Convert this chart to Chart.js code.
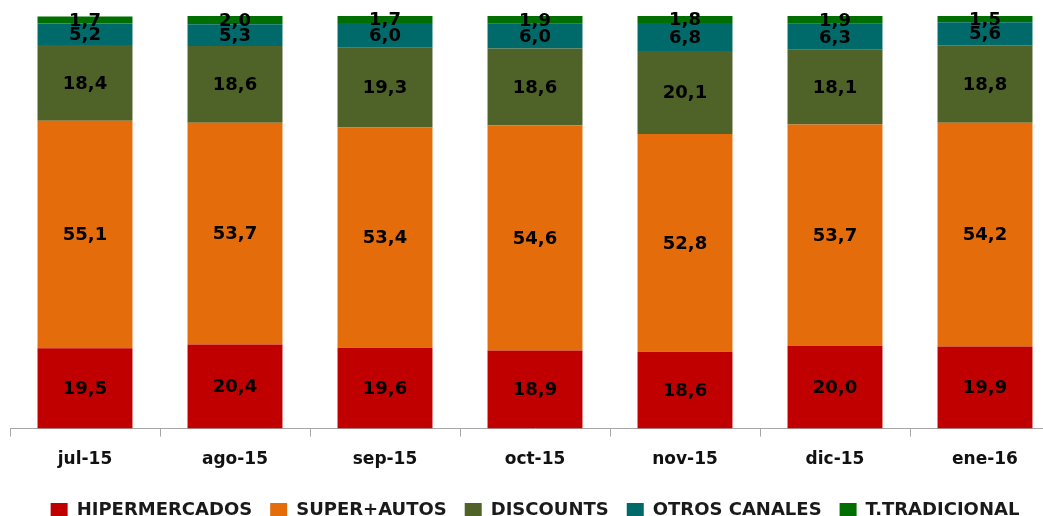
<!DOCTYPE html>
<html>
<head>
<meta charset="utf-8">
<script src="https://cdn.jsdelivr.net/npm/chart.js@4"></script>
<style>
  html, body { margin: 0; padding: 0; background: #fff; overflow: hidden; }
  #wrap { width: 1070px; height: 516px; }
</style>
</head>
<body>
<div id="wrap"><canvas id="chart" width="1070" height="516"></canvas></div>
<script>
const months = ['jul-15', 'ago-15', 'sep-15', 'oct-15', 'nov-15', 'dic-15', 'ene-16'];
const hipermercados = [19.5, 20.4, 19.6, 18.9, 18.6, 20.0, 19.9];
const superAutos = [55.1, 53.7, 53.4, 54.6, 52.8, 53.7, 54.2];
const discounts = [18.4, 18.6, 19.3, 18.6, 20.1, 18.1, 18.8];
const otrosCanales = [5.2, 5.3, 6.0, 6.0, 6.8, 6.3, 5.6];
const tradicional = [1.7, 2.0, 1.7, 1.9, 1.8, 1.9, 1.5];

const FONT = '"DejaVu Sans", sans-serif';

// writes each segment's value in its middle, with a decimal comma
const segmentLabels = {
  id: 'segmentLabels',
  afterDatasetsDraw(chart) {
    const ctx = chart.ctx;
    ctx.save();
    ctx.font = 'bold 18px ' + FONT;
    ctx.fillStyle = '#000';
    ctx.textAlign = 'center';
    ctx.textBaseline = 'middle';
    chart.data.datasets.forEach((ds, i) => {
      chart.getDatasetMeta(i).data.forEach((bar, j) => {
        const mid = (bar.y + bar.base) / 2;
        ctx.fillText(ds.data[j].toFixed(1).replace('.', ','), bar.x, mid + 1);
      });
    });
    ctx.restore();
  }
};

function series(label, data, color) {
  return { label: label, data: data, backgroundColor: color, borderWidth: 0 };
}

new Chart(document.getElementById('chart'), {
  type: 'bar',
  data: {
    labels: months,
    datasets: [
      series('HIPERMERCADOS', hipermercados, '#C00000'),
      series('SUPER+AUTOS', superAutos, '#E46C0A'),
      series('DISCOUNTS', discounts, '#4F6228'),
      series('OTROS CANALES', otrosCanales, '#006A6A'),
      series('T.TRADICIONAL', tradicional, '#006E00')
    ]
  },
  options: {
    responsive: false,
    animation: false,
    devicePixelRatio: 1,
    datasets: { bar: { barPercentage: 0.633, categoryPercentage: 1 } },
    layout: { padding: { left: 10, right: 10, top: 16, bottom: -13 } },
    scales: {
      x: {
        stacked: true,
        grid: { drawOnChartArea: false, color: '#A6A6A6', tickLength: 8 },
        border: { color: '#A6A6A6' },
        ticks: { color: '#111', padding: 13, font: { family: FONT, size: 17, weight: 'bold' } }
      },
      y: { stacked: true, display: false, min: 0, max: 100 }
    },
    plugins: {
      tooltip: { enabled: false },
      legend: {
        position: 'bottom',
        labels: {
          boxWidth: 17, boxHeight: 14, padding: 18, color: '#1a1a1a',
          font: { family: FONT, size: 18, weight: 'bold' }
        }
      }
    }
  },
  plugins: [segmentLabels]
});
</script>
</body>
</html>
